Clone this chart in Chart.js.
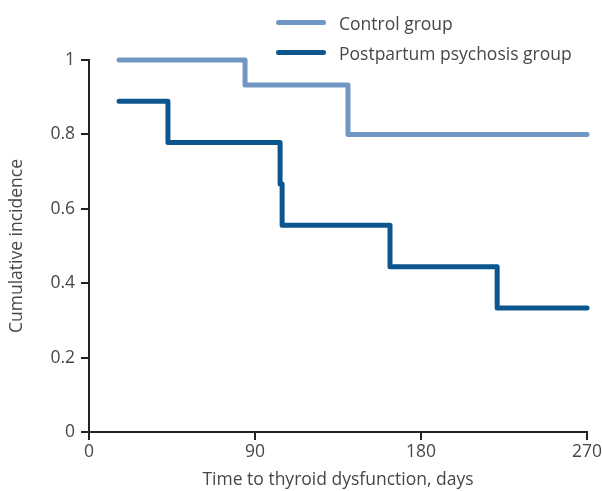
<!DOCTYPE html>
<html>
<head>
<meta charset="utf-8">
<script src="https://cdn.jsdelivr.net/npm/chart.js@4"></script>
<style>
  html, body { margin: 0; padding: 0; background: #fff; }
  #wrap { position: relative; width: 602px; height: 491px; }
  #legend { position: absolute; left: 276px; top: 0; font-family: "Open Sans", sans-serif; font-size: 17.5px; color: #474747; }
  .item { position: absolute; left: 0; white-space: nowrap; height: 24px; line-height: 24px; }
  .swatch { position: absolute; left: 0; top: 9px; width: 50px; height: 5px; border-radius: 3px; }
  .lbl { position: absolute; left: 63px; top: 0; }
</style>
</head>
<body>
<div id="wrap">
  <canvas id="c" width="602" height="491"></canvas>
  <div id="legend"></div>
</div>
<script>
const seriesNames = ['Control group', 'Postpartum psychosis group'];
const seriesColors = ['#7097c4', '#0b568f'];
const controlDays = [16.3, 84.6, 140.4, 270];
const controlValues = [1, 0.933, 0.8, 0.8];
const psychosisDays = [16.3, 42.8, 103.6, 104.7, 163.2, 221.3, 270];
const psychosisValues = [0.889, 0.778, 0.667, 0.556, 0.444, 0.333, 0.333];
const xTickValues = [0, 90, 180, 270];
const yTickLabels = ['0', '0.2', '0.4', '0.6', '0.8', '1'];

function pts(xs, ys) { return xs.map((x, i) => ({ x: x, y: ys[i] })); }

const legend = document.getElementById('legend');
seriesNames.forEach((n, i) => {
  const d = document.createElement('div');
  d.className = 'item';
  d.style.top = (11 + i * 30) + 'px';
  d.innerHTML = '<span class="swatch" style="background:' + seriesColors[i] + '"></span><span class="lbl">' + n + '</span>';
  legend.appendChild(d);
});

const fontFamily = '"Open Sans", sans-serif';
const axisColor = '#222';
const textColor = '#474747';

new Chart(document.getElementById('c'), {
  type: 'line',
  data: {
    datasets: [
      { label: seriesNames[0], data: pts(controlDays, controlValues), borderColor: seriesColors[0], borderWidth: 5, stepped: true, pointRadius: 0, fill: false, clip: false, borderCapStyle: 'round', borderJoinStyle: 'round' },
      { label: seriesNames[1], data: pts(psychosisDays, psychosisValues), borderColor: seriesColors[1], borderWidth: 5, stepped: true, pointRadius: 0, fill: false, clip: false, borderCapStyle: 'round', borderJoinStyle: 'round' }
    ]
  },
  options: {
    responsive: false,
    animation: false,
    events: [],
    layout: { padding: { left: 0, right: 15, top: 60, bottom: 0 } },
    plugins: { legend: { display: false }, tooltip: { enabled: false } },
    scales: {
      x: {
        type: 'linear', min: 0, max: 270,
        afterBuildTicks: (s) => { s.ticks = xTickValues.map(v => ({ value: v })); },
        afterFit: (s) => { s.paddingRight = 0; s.paddingLeft = 0; },
        ticks: { color: textColor, font: { family: fontFamily, size: 17.5 }, padding: 2, maxRotation: 0 },
        grid: { drawOnChartArea: false, drawTicks: true, tickLength: 8, color: axisColor, lineWidth: 2 },
        border: { color: axisColor, width: 2 },
        title: { display: true, text: 'Time to thyroid dysfunction, days', color: textColor, font: { family: fontFamily, size: 17.5 }, padding: { top: 5, bottom: 0 } }
      },
      y: {
        min: 0, max: 1,
        ticks: { stepSize: 0.2, color: textColor, font: { family: fontFamily, size: 17.5 }, padding: 6,
          callback: (v, i) => yTickLabels[i] },
        grid: { drawOnChartArea: false, drawTicks: true, tickLength: 8, color: axisColor, lineWidth: 2 },
        border: { color: axisColor, width: 2 },
        title: { display: true, text: 'Cumulative incidence', color: textColor, font: { family: fontFamily, size: 17.5 }, padding: { top: 7, bottom: 6 } },
        afterFit: (s) => { s.width = 89; }
      }
    }
  }
});
</script>
</body>
</html>
